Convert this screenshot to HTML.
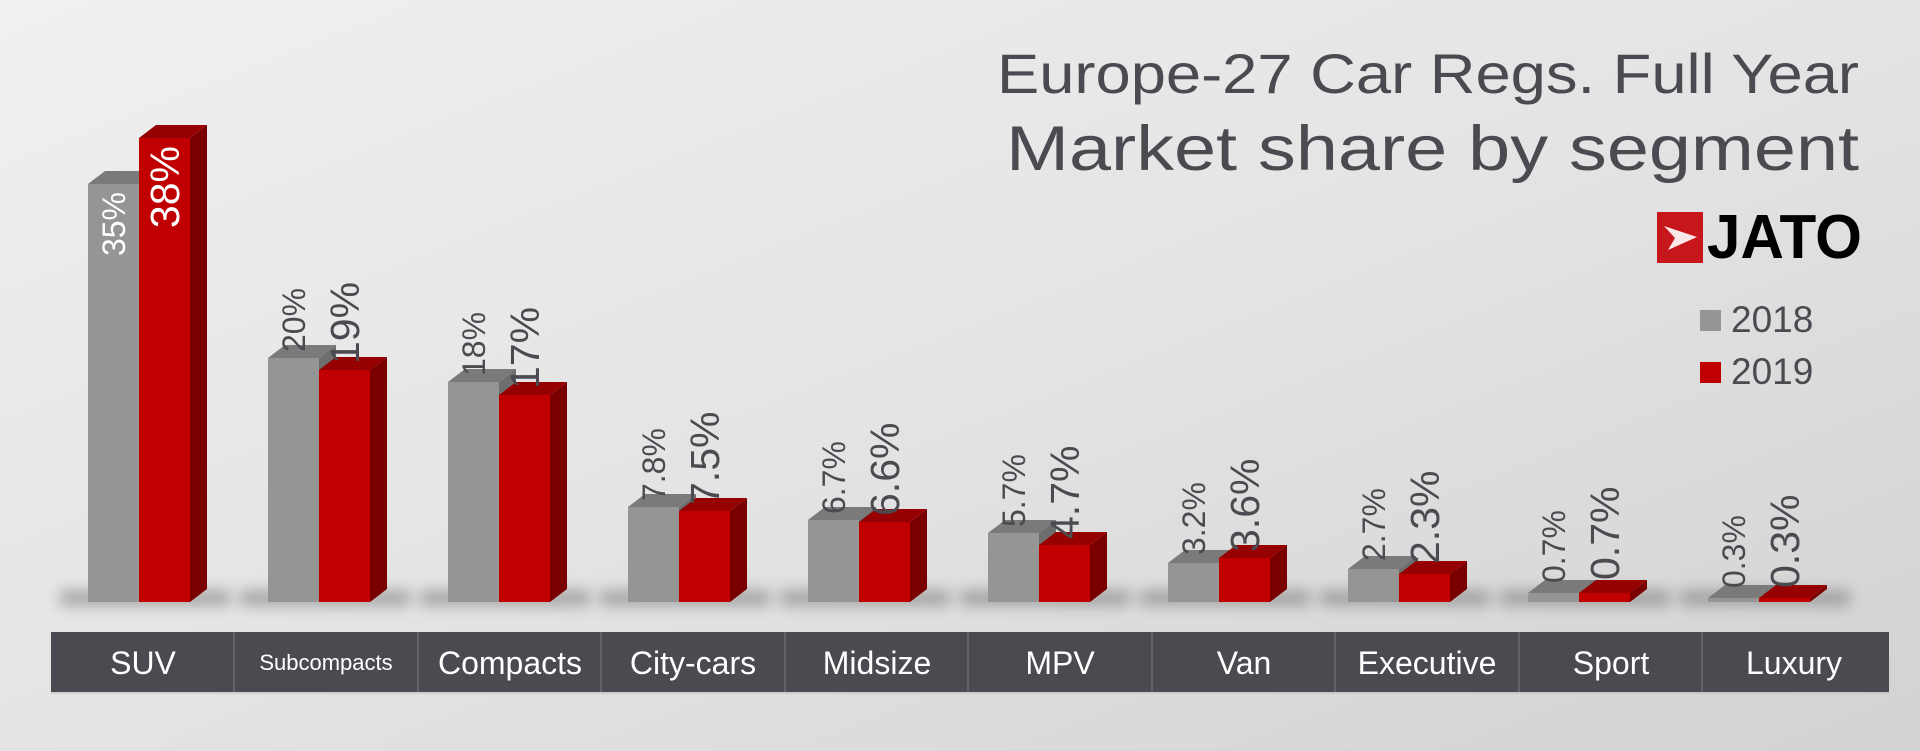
<!DOCTYPE html>
<html><head><meta charset="utf-8"><style>
html,body{margin:0;padding:0;width:1920px;height:751px;overflow:hidden;}
</style></head><body>
<svg width="1920" height="751" viewBox="0 0 1920 751" xmlns="http://www.w3.org/2000/svg" font-family="Liberation Sans, sans-serif">
<defs>
<linearGradient id="bg" x1="0" y1="0" x2="1" y2="1">
<stop offset="0" stop-color="#f0f0f0"/><stop offset="0.5" stop-color="#e4e4e4"/><stop offset="1" stop-color="#d2d2d2"/>
</linearGradient>
<filter id="blur" x="-30%" y="-100%" width="160%" height="300%"><feGaussianBlur stdDeviation="7"/></filter>
</defs>
<rect width="1920" height="751" fill="url(#bg)"/>
<text x="1859" y="93" font-size="56" fill="#4a4b50" text-anchor="end" textLength="862" lengthAdjust="spacingAndGlyphs">Europe-27 Car Regs. Full Year</text>
<text x="1859" y="170" font-size="63" fill="#4a4b50" text-anchor="end" textLength="853" lengthAdjust="spacingAndGlyphs">Market share by segment</text>
<rect x="1657" y="212" width="46" height="51" fill="#c8161d"/>
<path d="M1664 226 L1697 237 L1668 250 L1675 238 Z" fill="#fff" opacity="0.9"/>
<text x="1707" y="258" font-size="62" font-weight="bold" fill="#000" textLength="155" lengthAdjust="spacingAndGlyphs">JATO</text>
<rect x="1700" y="310" width="21" height="21" fill="#959595"/>
<text x="1731" y="332" font-size="37" fill="#4a4b50">2018</text>
<rect x="1700" y="362" width="21" height="21" fill="#c00000"/>
<text x="1731" y="384" font-size="37" fill="#4a4b50">2019</text>

<g fill="#6a6a6a" opacity="0.5" filter="url(#blur)">
<rect x="60" y="590" width="170" height="16"/>
<rect x="240" y="590" width="170" height="16"/>
<rect x="420" y="590" width="170" height="16"/>
<rect x="600" y="590" width="170" height="16"/>
<rect x="780" y="590" width="170" height="16"/>
<rect x="960" y="590" width="170" height="16"/>
<rect x="1140" y="590" width="170" height="16"/>
<rect x="1320" y="590" width="170" height="16"/>
<rect x="1500" y="590" width="170" height="16"/>
<rect x="1680" y="590" width="170" height="16"/>
</g>

<g transform="translate(88,0)">
<polygon points="51,184 68,171 68,602 51,602" fill="#6e6e6e"/>
<polygon points="0,184 17,171 68,171 51,184" fill="#7a7a7a"/>
<rect x="0" y="184" width="51" height="418" fill="#959595"/>
<polygon points="102,602 119,589 119,125 102,138" fill="#7a0000"/>
<polygon points="51,138 68,125 119,125 102,138" fill="#960000"/>
<rect x="51" y="138" width="51" height="464" fill="#c00000"/>
<text transform="translate(37,192) rotate(-90)" text-anchor="end" font-size="32" fill="#fff">35%</text>
<text transform="translate(91,146) rotate(-90)" text-anchor="end" font-size="41" fill="#fff">38%</text>
</g>

<g transform="translate(268,0)">
<polygon points="51,358 68,345 68,602 51,602" fill="#6e6e6e"/>
<polygon points="0,358 17,345 68,345 51,358" fill="#7a7a7a"/>
<rect x="0" y="358" width="51" height="244" fill="#959595"/>
<polygon points="102,602 119,589 119,357 102,370" fill="#7a0000"/>
<polygon points="51,370 68,357 119,357 102,370" fill="#960000"/>
<rect x="51" y="370" width="51" height="232" fill="#c00000"/>
<text transform="translate(37,352) rotate(-90)" font-size="32" fill="#4a4b50">20%</text>
<text transform="translate(91,364) rotate(-90)" font-size="41" fill="#4a4b50">19%</text>
</g>

<g transform="translate(448,0)">
<polygon points="51,382 68,369 68,602 51,602" fill="#6e6e6e"/>
<polygon points="0,382 17,369 68,369 51,382" fill="#7a7a7a"/>
<rect x="0" y="382" width="51" height="220" fill="#959595"/>
<polygon points="102,602 119,589 119,382 102,395" fill="#7a0000"/>
<polygon points="51,395 68,382 119,382 102,395" fill="#960000"/>
<rect x="51" y="395" width="51" height="207" fill="#c00000"/>
<text transform="translate(37,376) rotate(-90)" font-size="32" fill="#4a4b50">18%</text>
<text transform="translate(91,389) rotate(-90)" font-size="41" fill="#4a4b50">17%</text>
</g>

<g transform="translate(628,0)">
<polygon points="51,507 68,494 68,602 51,602" fill="#6e6e6e"/>
<polygon points="0,507 17,494 68,494 51,507" fill="#7a7a7a"/>
<rect x="0" y="507" width="51" height="95" fill="#959595"/>
<polygon points="102,602 119,589 119,498 102,511" fill="#7a0000"/>
<polygon points="51,511 68,498 119,498 102,511" fill="#960000"/>
<rect x="51" y="511" width="51" height="91" fill="#c00000"/>
<text transform="translate(37,501) rotate(-90)" font-size="32" fill="#4a4b50">7.8%</text>
<text transform="translate(91,505) rotate(-90)" font-size="41" fill="#4a4b50">7.5%</text>
</g>

<g transform="translate(808,0)">
<polygon points="51,520 68,507 68,602 51,602" fill="#6e6e6e"/>
<polygon points="0,520 17,507 68,507 51,520" fill="#7a7a7a"/>
<rect x="0" y="520" width="51" height="82" fill="#959595"/>
<polygon points="102,602 119,589 119,509 102,522" fill="#7a0000"/>
<polygon points="51,522 68,509 119,509 102,522" fill="#960000"/>
<rect x="51" y="522" width="51" height="80" fill="#c00000"/>
<text transform="translate(37,514) rotate(-90)" font-size="32" fill="#4a4b50">6.7%</text>
<text transform="translate(91,516) rotate(-90)" font-size="41" fill="#4a4b50">6.6%</text>
</g>

<g transform="translate(988,0)">
<polygon points="51,533 68,520 68,602 51,602" fill="#6e6e6e"/>
<polygon points="0,533 17,520 68,520 51,533" fill="#7a7a7a"/>
<rect x="0" y="533" width="51" height="69" fill="#959595"/>
<polygon points="102,602 119,589 119,532 102,545" fill="#7a0000"/>
<polygon points="51,545 68,532 119,532 102,545" fill="#960000"/>
<rect x="51" y="545" width="51" height="57" fill="#c00000"/>
<text transform="translate(37,527) rotate(-90)" font-size="32" fill="#4a4b50">5.7%</text>
<text transform="translate(91,539) rotate(-90)" font-size="41" fill="#4a4b50">4.7%</text>
</g>

<g transform="translate(1168,0)">
<polygon points="51,563 68,550 68,602 51,602" fill="#6e6e6e"/>
<polygon points="0,563 17,550 68,550 51,563" fill="#7a7a7a"/>
<rect x="0" y="563" width="51" height="39" fill="#959595"/>
<polygon points="102,602 119,589 119,545 102,558" fill="#7a0000"/>
<polygon points="51,558 68,545 119,545 102,558" fill="#960000"/>
<rect x="51" y="558" width="51" height="44" fill="#c00000"/>
<text transform="translate(37,555) rotate(-90)" font-size="32" fill="#4a4b50">3.2%</text>
<text transform="translate(91,552) rotate(-90)" font-size="41" fill="#4a4b50">3.6%</text>
</g>

<g transform="translate(1348,0)">
<polygon points="51,569 68,556 68,602 51,602" fill="#6e6e6e"/>
<polygon points="0,569 17,556 68,556 51,569" fill="#7a7a7a"/>
<rect x="0" y="569" width="51" height="33" fill="#959595"/>
<polygon points="102,602 119,589 119,561 102,574" fill="#7a0000"/>
<polygon points="51,574 68,561 119,561 102,574" fill="#960000"/>
<rect x="51" y="574" width="51" height="28" fill="#c00000"/>
<text transform="translate(37,561) rotate(-90)" font-size="32" fill="#4a4b50">2.7%</text>
<text transform="translate(91,564) rotate(-90)" font-size="41" fill="#4a4b50">2.3%</text>
</g>

<g transform="translate(1528,0)">
<polygon points="51,593 68,580 68,602 51,602" fill="#6e6e6e"/>
<polygon points="0,593 17,580 68,580 51,593" fill="#7a7a7a"/>
<rect x="0" y="593" width="51" height="9" fill="#959595"/>
<polygon points="102,602 119,589 119,580 102,593" fill="#7a0000"/>
<polygon points="51,593 68,580 119,580 102,593" fill="#960000"/>
<rect x="51" y="593" width="51" height="9" fill="#c00000"/>
<text transform="translate(37,583) rotate(-90)" font-size="32" fill="#4a4b50">0.7%</text>
<text transform="translate(91,580) rotate(-90)" font-size="41" fill="#4a4b50">0.7%</text>
</g>

<g transform="translate(1708,0)">
<polygon points="51,598 68,585 68,602 51,602" fill="#6e6e6e"/>
<polygon points="0,598 17,585 68,585 51,598" fill="#7a7a7a"/>
<rect x="0" y="598" width="51" height="4" fill="#959595"/>
<polygon points="102,602 119,589 119,585 102,598" fill="#7a0000"/>
<polygon points="51,598 68,585 119,585 102,598" fill="#960000"/>
<rect x="51" y="598" width="51" height="4" fill="#c00000"/>
<text transform="translate(37,588) rotate(-90)" font-size="32" fill="#4a4b50">0.3%</text>
<text transform="translate(91,588) rotate(-90)" font-size="41" fill="#4a4b50">0.3%</text>
</g>

<rect x="51" y="632" width="1838" height="60" fill="#4a4b50"/>
<g stroke="#6a6b70" stroke-width="1.5">
<line x1="234" y1="632" x2="234" y2="692"/><line x1="418" y1="632" x2="418" y2="692"/><line x1="601" y1="632" x2="601" y2="692"/><line x1="785" y1="632" x2="785" y2="692"/><line x1="968" y1="632" x2="968" y2="692"/><line x1="1152" y1="632" x2="1152" y2="692"/><line x1="1335" y1="632" x2="1335" y2="692"/><line x1="1519" y1="632" x2="1519" y2="692"/><line x1="1702" y1="632" x2="1702" y2="692"/>
</g>
<line x1="51" y1="693" x2="1889" y2="693" stroke="#bbb" stroke-width="1"/>
<g fill="#fff" font-size="32" text-anchor="middle">
<text x="143" y="674">SUV</text>
<text x="326" y="670" font-size="22">Subcompacts</text>
<text x="510" y="674">Compacts</text>
<text x="693" y="674">City-cars</text>
<text x="877" y="674">Midsize</text>
<text x="1060" y="674">MPV</text>
<text x="1244" y="674">Van</text>
<text x="1427" y="674">Executive</text>
<text x="1611" y="674">Sport</text>
<text x="1794" y="674">Luxury</text>
</g>
</svg>
</body></html>
